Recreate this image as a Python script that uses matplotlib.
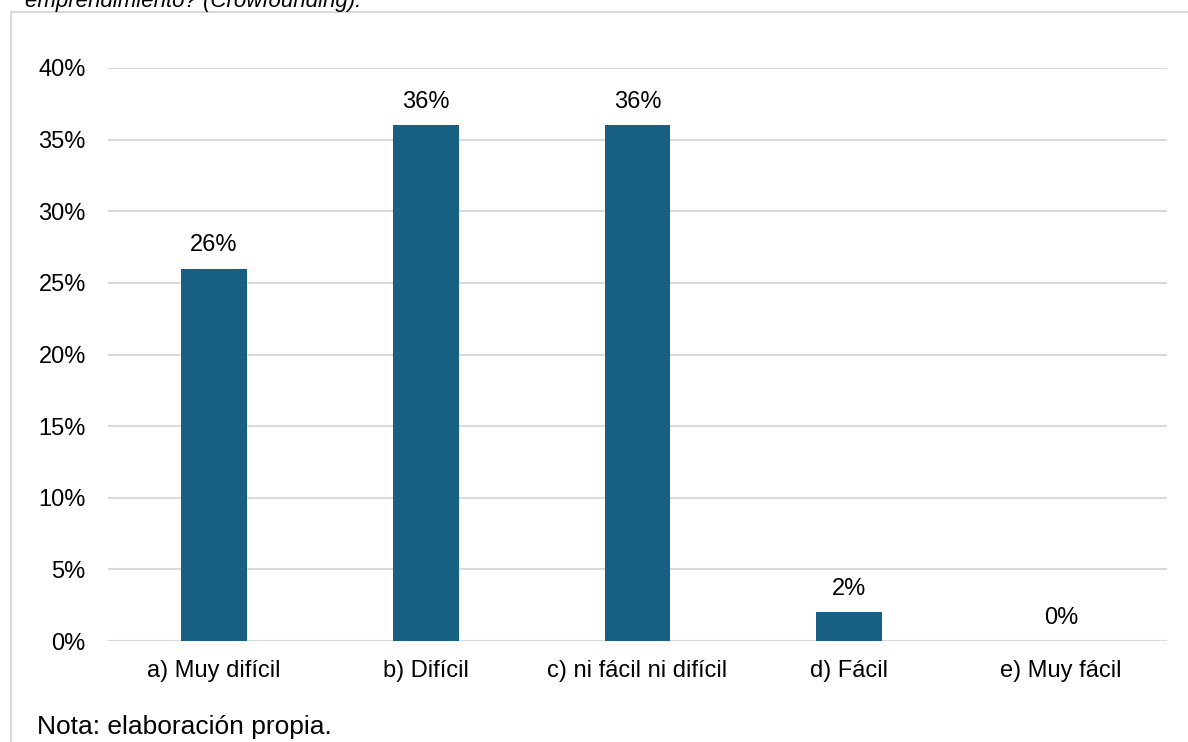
import numpy as np
import matplotlib.pyplot as plt
from matplotlib import rcParams
from matplotlib.patches import Rectangle

rcParams['font.family'] = ['Liberation Sans', 'DejaVu Sans']

categorias = ["a) Muy difícil", "b) Difícil", "c) ni fácil ni difícil", "d) Fácil", "e) Muy fácil"]
valores = [0.26, 0.36, 0.36, 0.02, 0.0]
yticks = [0, 0.05, 0.10, 0.15, 0.20, 0.25, 0.30, 0.35, 0.40]

W, H = 1188, 742
fig = plt.figure(figsize=(W / 100, H / 100), dpi=100)

# marco gris del gráfico
fig.patches.append(Rectangle((11 / W, -0.1), 1.2, 1 - 11.5 / H + 0.1,
                             transform=fig.transFigure, fill=False,
                             edgecolor='#d9d9d9', linewidth=1.5))

ax = fig.add_axes([108 / W, 1 - 641 / H, (1167 - 108) / W, (641 - 68) / H])

x = np.arange(len(categorias))
barras = ax.bar(x, valores, width=0.31, color='#176083', zorder=3)
for xi, v in zip(x, valores):
    ax.annotate(f"{v:.0%}", (xi, v), xytext=(0, 9), textcoords='offset points',
                ha='center', va='bottom', fontsize=17)

ax.set_xlim(-0.5, len(categorias) - 0.5)
ax.set_ylim(0, 0.4)
ax.set_yticks(yticks)
ax.set_yticklabels([f"{t:.0%}" for t in yticks])
ax.set_xticks(x)
ax.set_xticklabels(categorias)
ax.tick_params(axis='y', length=0, pad=16, labelsize=17)
ax.tick_params(axis='x', length=0, pad=14, labelsize=17)
ax.grid(axis='y', color='#d9d9d9', linewidth=1.5, zorder=0)
for s in ax.spines.values():
    s.set_visible(False)

fig.text(25 / W, 1 - 7 / H, "emprendimiento? (Crowfounding).", fontsize=16,
         style='italic', ha='left', va='baseline')
fig.text(37 / W, 1 - 727 / H, "Nota: elaboración propia.", fontsize=19,
         ha='left', va='center')

fig.savefig('out.png', dpi=100)
